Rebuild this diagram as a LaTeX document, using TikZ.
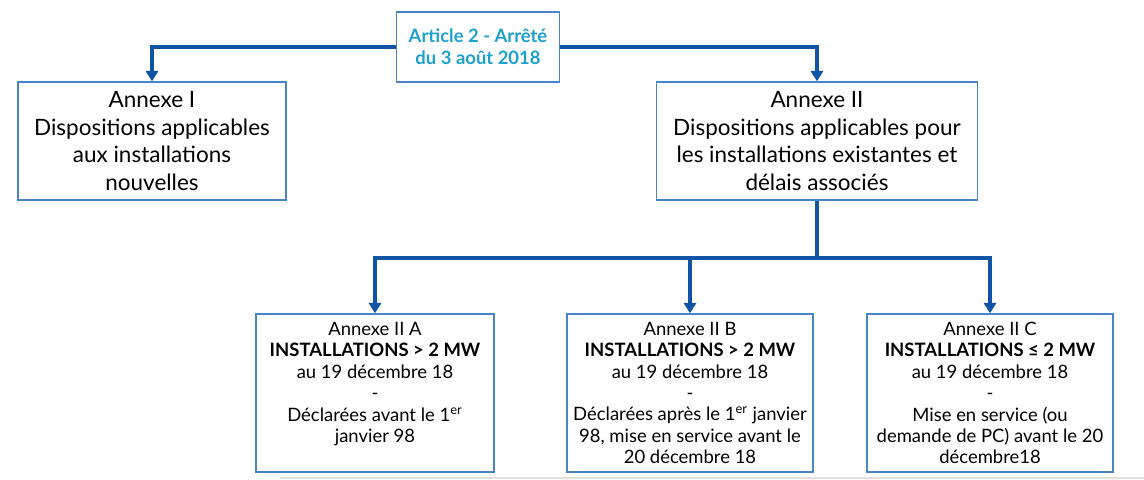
\documentclass[tikz,border=0pt]{standalone}
\usepackage{fontspec}
\setmainfont{Lato}
\usetikzlibrary{arrows.meta}
\definecolor{lienbleu}{RGB}{16,84,166}
\definecolor{cadrebleu}{RGB}{72,132,198}
\definecolor{titrebleu}{RGB}{28,160,206}
\tikzset{
  boite/.style={draw=cadrebleu,line width=0.8pt,fill=white,align=center,inner sep=0pt},
  grande/.style={boite,minimum height=2.36cm,font=\fontsize{12.8}{15.9}\selectfont},
  petite/.style={boite,minimum height=3.16cm,font=\fontsize{10.5}{12.2}\selectfont},
  lien/.style={draw=lienbleu,line width=2.2pt},
  fleche/.style={lien,-{Triangle[width=7pt,length=6pt]}}
}
\begin{document}
\begin{tikzpicture}[x=0.02cm,y=-0.02cm]
   \useasboundingbox (0,0) rectangle (1144,480);
   \draw[black!12,line width=1.5pt] (280,478) -- (1144,478);

   \node[boite,minimum width=3.26cm,minimum height=1.4cm,text=titrebleu,
     font=\fontsize{10.5}{12.4}\selectfont\bfseries] (art) at (478,47)
     {Article 2 - Arrêté\\du 3 août 2018};

   \node[grande,minimum width=5.36cm] (an1) at (152,141)
     {Annexe I\\Dispositions applicables\\aux installations\\nouvelles};
   \node[grande,minimum width=6.42cm] (an2) at (817,141)
     {Annexe II\\Dispositions applicables pour\\les installations existantes et\\délais associés};

   \node[petite,minimum width=4.76cm] (an2a) at (375,393)
     {Annexe II A\\\textbf{INSTALLATIONS > 2 MW}\\au 19 décembre 18\\-\\Déclarées avant le 1\textsuperscript{er}\\janvier 98\\\mbox{}};
   \node[petite,minimum width=4.92cm] (an2b) at (690,393)
     {Annexe II B\\\textbf{INSTALLATIONS > 2 MW}\\au 19 décembre 18\\-\\Déclarées après le 1\textsuperscript{er} janvier\\98, mise en service avant le\\20 décembre 18};
   \node[petite,minimum width=4.92cm] (an2c) at (990,393)
     {Annexe II C\\\textbf{INSTALLATIONS ≤ 2 MW}\\au 19 décembre 18\\-\\Mise en service (ou\\demande de PC) avant le 20\\décembre18};

   \draw[fleche] (art.west) -| (an1.north);
   \draw[fleche] (art.east) -| (an2.north);

   \coordinate (fourche) at (817,258);
   \draw[lien] (an2.south) -- (fourche);
   \draw[fleche] (fourche) -| (an2a.north);
   \draw[fleche] (fourche) -| (an2b.north);
   \draw[fleche] (fourche) -| (an2c.north);
 \end{tikzpicture}
\end{document}
